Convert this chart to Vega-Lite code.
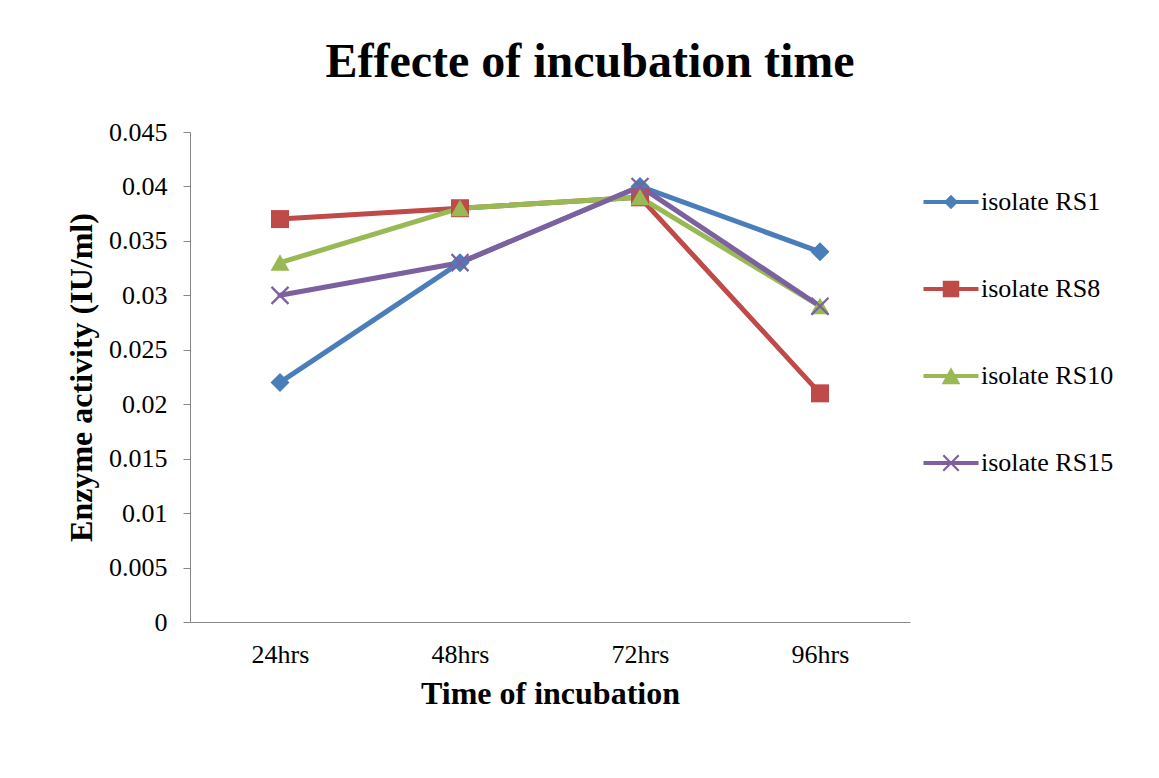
{
  "$schema": "https://vega.github.io/schema/vega-lite/v6.json",
  "width": 720,
  "height": 490,
  "autosize": {"type": "none"},
  "padding": {"left": 190, "top": 132, "right": 249, "bottom": 156},
  "background": "white",
  "title": {
    "text": "Effecte of incubation time",
    "font": "Liberation Serif",
    "fontSize": 48,
    "fontWeight": "bold",
    "color": "black",
    "anchor": "middle",
    "frame": "group",
    "dx": 40,
    "baseline": "alphabetic",
    "offset": 0,
    "dy": 6
  },
  "config": {
    "view": {"stroke": null},
    "axis": {
      "labelFont": "Liberation Serif",
      "labelFontSize": 26,
      "labelColor": "black",
      "titleFont": "Liberation Serif",
      "titleFontSize": 32,
      "titleFontWeight": "bold",
      "titleColor": "black",
      "domainColor": "#868686",
      "tickColor": "#868686",
      "grid": false
    },
    "legend": {
      "labelFont": "Liberation Serif",
      "labelFontSize": 26,
      "labelColor": "black"
    }
  },
  "data": {
    "values": [
      {"series": "isolate RS1", "time": "24hrs", "value": 0.022},
      {"series": "isolate RS1", "time": "48hrs", "value": 0.033},
      {"series": "isolate RS1", "time": "72hrs", "value": 0.040},
      {"series": "isolate RS1", "time": "96hrs", "value": 0.034},
      {"series": "isolate RS8", "time": "24hrs", "value": 0.037},
      {"series": "isolate RS8", "time": "48hrs", "value": 0.038},
      {"series": "isolate RS8", "time": "72hrs", "value": 0.039},
      {"series": "isolate RS8", "time": "96hrs", "value": 0.021},
      {"series": "isolate RS10", "time": "24hrs", "value": 0.033},
      {"series": "isolate RS10", "time": "48hrs", "value": 0.038},
      {"series": "isolate RS10", "time": "72hrs", "value": 0.039},
      {"series": "isolate RS10", "time": "96hrs", "value": 0.029},
      {"series": "isolate RS15", "time": "24hrs", "value": 0.030},
      {"series": "isolate RS15", "time": "48hrs", "value": 0.033},
      {"series": "isolate RS15", "time": "72hrs", "value": 0.040},
      {"series": "isolate RS15", "time": "96hrs", "value": 0.029}
    ]
  },
  "encoding": {
    "x": {
      "field": "time",
      "type": "ordinal",
      "scale": {"type": "point", "padding": 0.5},
      "sort": ["24hrs", "48hrs", "72hrs", "96hrs"],
      "axis": {
        "title": "Time of incubation",
        "labelAngle": 0,
        "ticks": false,
        "labelPadding": 19,
        "titlePadding": 11
      }
    },
    "y": {
      "field": "value",
      "type": "quantitative",
      "scale": {"domain": [0, 0.045], "nice": false},
      "axis": {
        "title": "Enzyme activity (IU/ml)",
        "values": [0, 0.005, 0.01, 0.015, 0.02, 0.025, 0.03, 0.035, 0.04, 0.045],
        "format": "~f",
        "tickSize": 7,
        "labelPadding": 16,
        "titlePadding": 10
      }
    },
    "color": {
      "field": "series",
      "type": "nominal",
      "sort": ["isolate RS1", "isolate RS8", "isolate RS10", "isolate RS15"],
      "scale": {
        "domain": ["isolate RS1", "isolate RS8", "isolate RS10", "isolate RS15"],
        "range": ["#4A7EBB", "#BE4B48", "#98B954", "#7D60A0"]
      },
      "legend": {
        "title": null,
        "orient": "none",
        "legendX": 748,
        "legendY": 57,
        "padding": 0,
        "symbolSize": 484,
        "symbolStrokeWidth": 0,
        "symbolOpacity": 1,
        "symbolType": {"expr": "datum.value == 'isolate RS1' ? 'M-2.5,-0.18H2.5V0.18H-2.5Z M0,-0.65L0.65,0L0,0.65L-0.65,0Z' : datum.value == 'isolate RS8' ? 'M-2.5,-0.18H2.5V0.18H-2.5Z M-0.75,-0.75H0.75V0.75H-0.75Z' : datum.value == 'isolate RS10' ? 'M-2.5,-0.18H2.5V0.18H-2.5Z M0,-0.8L0.85,0.75H-0.85Z' : 'M-2.5,-0.18H2.5V0.18H-2.5Z M-0.77,-0.63L-0.63,-0.77L0.77,0.63L0.63,0.77Z M0.63,-0.77L0.77,-0.63L-0.63,0.77L-0.77,0.63Z'"},
        "labelOffset": 17,
        "labelFont": "Liberation Serif",
        "labelFontSize": 26,
        "labelColor": "black",
        "rowPadding": 61
      }
    }
  },
  "layer": [
    {
      "mark": {"type": "line", "strokeWidth": 5, "strokeJoin": "round", "strokeCap": "round"}
    },
    {
      "transform": [{"filter": "datum.series == 'isolate RS1'"}],
      "mark": {"type": "point", "filled": true, "opacity": 1, "size": 400, "strokeWidth": 0, "shape": "M0,-0.95L0.95,0L0,0.95L-0.95,0Z"}
    },
    {
      "transform": [{"filter": "datum.series == 'isolate RS8'"}],
      "mark": {"type": "point", "filled": true, "opacity": 1, "size": 400, "strokeWidth": 0, "shape": "M-0.9,-0.9H0.9V0.9H-0.9Z"}
    },
    {
      "transform": [{"filter": "datum.series == 'isolate RS10'"}],
      "mark": {"type": "point", "filled": true, "opacity": 1, "size": 400, "strokeWidth": 0, "shape": "M0,-0.85L0.95,0.8H-0.95Z"}
    },
    {
      "transform": [{"filter": "datum.series == 'isolate RS15'"}],
      "mark": {"type": "point", "filled": true, "opacity": 1, "size": 400, "strokeWidth": 0, "shape": "M-0.93,-0.77L-0.77,-0.93L0.93,0.77L0.77,0.93Z M0.77,-0.93L0.93,-0.77L-0.77,0.93L-0.93,0.77Z"}
    }
  ]
}
